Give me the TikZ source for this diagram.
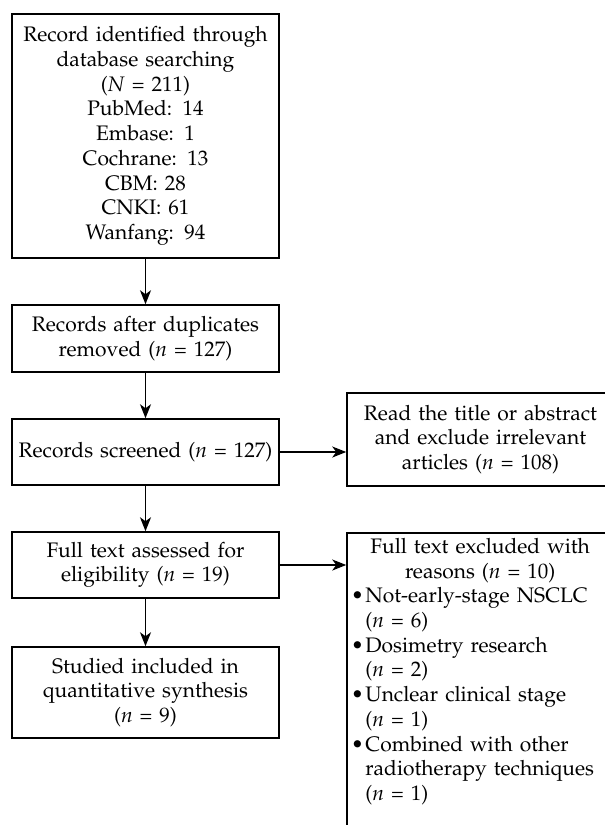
\documentclass[tikz,border=0pt]{standalone}
\usepackage[T1]{fontenc}
\usepackage{mathpazo}
\usetikzlibrary{arrows.meta}
\newcommand\fs{\fontsize{21}{24.7}\selectfont}
\newcommand\bl{\textbullet\kern1.5pt}
\newcommand\ind{\phantom{\bl}}
\begin{document}
\begin{tikzpicture}[x=1pt,y=-1pt,
  box/.style={draw, line width=1.5pt, minimum width=267pt, text width=262pt, align=center, inner sep=0pt, font=\fs},
  arr/.style={-{Stealth[length=14pt,width=11pt,inset=4pt]}, line width=1.5pt}]
\useasboundingbox (0,0) rectangle (605,825);
\clip (0,0) rectangle (605,825);
\fill[white] (0,0) rectangle (605,825);
\node[box, minimum height=244pt] (b1) at (145.5,136) {Record identified through\\database searching\\(\textit{N} = 211)\\PubMed: 14\\Embase: 1\\Cochrane: 13\\CBM: 28\\CNKI: 61\\Wanfang: 94};
\node[box, minimum height=67pt] (b2) at (145.5,338.5) {Records after duplicates\\removed (\textit{n} = 127)};
\node[box, minimum height=66pt] (b3) at (145.5,452) {Records screened (\textit{n} = 127)};
\node[box, minimum height=66pt] (b4) at (145.5,565) {Full text assessed for\\eligibility (\textit{n} = 19)};
\node[box, minimum height=91pt] (b5) at (145.5,692.5) {Studied included in\\quantitative synthesis\\(\textit{n} = 9)};
\node[box, minimum height=93pt] (r1) at (480.5,439.5) {Read the title or abstract\\and exclude irrelevant\\articles (\textit{n} = 108)};
\node[draw, line width=1.5pt, minimum width=267pt, minimum height=312pt, inner sep=0pt] (r2) at (480.5,689) {};
\node[anchor=north west, text width=262pt, align=left, inner sep=0pt, font=\fs] (r2t) at (351,538)
 {\makebox[258pt][c]{Full text excluded with}\\
  \makebox[258pt][c]{reasons (\textit{n} = 10)}\\
  \bl Not-early-stage NSCLC\\
  \ind(\textit{n} = 6)\\
  \bl Dosimetry research\\
  \ind(\textit{n} = 2)\\
  \bl Unclear clinical stage\\
  \ind(\textit{n} = 1)\\
  \bl Combined with other\\
  \ind radiotherapy techniques\\
  \ind(\textit{n} = 1)};
\draw[arr] (b1) -- (b2);
\draw[arr] (b2) -- (b3);
\draw[arr] (b3) -- (b4);
\draw[arr] (b4) -- (b5);
\draw[arr] (b3.east) -- (r1.west |- b3.east);
\draw[arr] (b4.east) -- (r2.west |- b4.east);
\end{tikzpicture}
\end{document}
